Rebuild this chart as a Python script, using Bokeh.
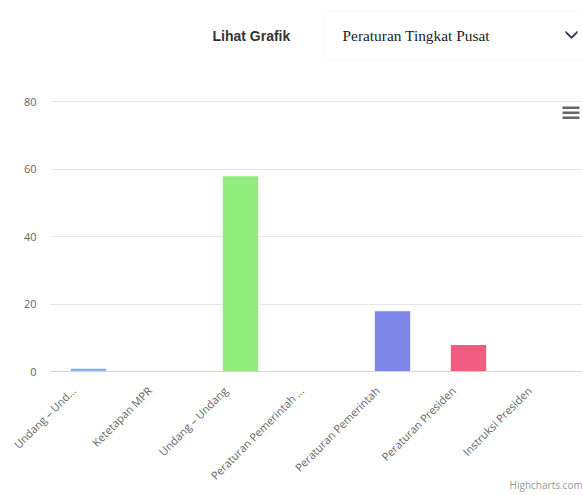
import math
from bokeh.plotting import figure
from bokeh.models import (Range1d, FixedTicker, Label, BoxAnnotation,
                          PolyAnnotation, ColumnDataSource)
from bokeh.embed import file_html
from bokeh.resources import INLINE

categories = ["Undang – Und...", "Ketetapan MPR", "Undang – Undang",
              "Peraturan Pemerintah ...", "Peraturan Pemerintah",
              "Peraturan Presiden", "Instruksi Presiden"]
values = [1, 0, 58, 0, 18, 8, 0]
colors = ["#7cb5ec", "#434348", "#90ed7d", "#f7a35c", "#8085e9", "#f15c80", "#e4d354"]
y_ticks = [0, 20, 40, 60, 80]
header_label = "Lihat Grafik"
dropdown_text = "Peraturan Tingkat Pusat"
credit_text = "Highcharts.com"

idx = list(range(len(categories)))
src = ColumnDataSource(dict(x=idx, val=values, color=colors))

# geometry (canvas pixels)
W, H = 582, 495
FRAME_LEFT, AXIS_Y = 50, 371
PX_PER_UNIT = 270 / 80.0
y_top = AXIS_Y / PX_PER_UNIT  # frame reaches the canvas top so header fits inside

p = figure(x_range=Range1d(-0.5, len(categories) - 0.5), y_range=Range1d(0, y_top),
           width=W, height=H, output_backend="svg", toolbar_location=None,
           min_border_left=FRAME_LEFT, min_border_right=0, min_border_top=0,
           min_border_bottom=H - AXIS_Y)
p.outline_line_color = None
p.background_fill_color = "white"
p.border_fill_color = "white"

p.vbar(x="x", top="val", width=0.48, fill_color="color", line_color="white",
       line_width=1, source=src)

p.yaxis.ticker = FixedTicker(ticks=y_ticks)
p.yaxis.axis_line_color = None
p.yaxis.major_tick_line_color = None
p.yaxis.minor_tick_line_color = None
p.yaxis.major_tick_out = 0
p.yaxis.major_tick_in = 0
p.yaxis.major_label_standoff = 14
p.yaxis.major_label_text_font = "Open Sans"
p.yaxis.major_label_text_font_size = "11px"
p.yaxis.major_label_text_color = "#666666"

# label anchors sit left of the category centre, like Highcharts
label_shift = 15 / 76.0
tick_pos = [i - label_shift for i in idx]
p.xaxis.ticker = FixedTicker(ticks=tick_pos)
p.xaxis.major_label_overrides = {t: c for t, c in zip(tick_pos, categories)}
p.xaxis.axis_line_color = "#ccd6eb"
p.xaxis.major_tick_line_color = None
p.xaxis.minor_tick_line_color = None
p.xaxis.major_tick_out = 0
p.xaxis.major_tick_in = 0
p.xaxis.major_label_standoff = 17
p.xaxis.major_label_orientation = math.pi / 4
p.xaxis.major_label_text_font = "Open Sans"
p.xaxis.major_label_text_font_size = "11px"
p.xaxis.major_label_text_color = "#666666"

# credit: axis label centred on the frame's right end; trailing no-break
# spaces (same width as the text) put the visible words left of that end
pad = "\u00a0" * 28
p.xaxis.axis_label = credit_text + pad
p.xaxis.axis_label_text_font = "Open Sans"
p.xaxis.axis_label_text_font_style = "normal"
p.xaxis.axis_label_text_font_size = "10px"
p.xaxis.axis_label_text_color = "#999999"
p.xaxis.axis_label_standoff = -13
p.xaxis.axis_label_align = "end"

p.xgrid.grid_line_color = None
p.ygrid.grid_line_color = "#e6e6e6"

# screen units are relative to the frame bottom-left (canvas x=50, y=371)
def sx(x):
    return x - FRAME_LEFT

def sy(y):
    return AXIS_Y - y

def scr(**kw):
    d = {}
    for k in kw:
        d[k + "_units"] = "screen"
    d.update(kw)
    return d

# Header
p.add_layout(Label(x=sx(212), y=sy(35), x_units="screen", y_units="screen",
                   text=header_label, text_font="Liberation Sans",
                   text_font_style="bold", text_font_size="14px",
                   text_color="#333333", text_baseline="middle"))
p.add_layout(BoxAnnotation(**scr(left=sx(323.5), right=sx(600), top=sy(10.5), bottom=sy(59.5)),
                           fill_color="white", fill_alpha=1,
                           line_color="#e2e2e2", line_width=1,
                           border_radius=8))
p.add_layout(Label(x=sx(342), y=sy(35), x_units="screen", y_units="screen",
                   text=dropdown_text, text_font="Liberation Serif",
                   text_font_size="15.4px", text_color="#222222",
                   text_baseline="middle"))
p.add_layout(PolyAnnotation(xs=[sx(565), sx(571), sx(577), sx(577), sx(571), sx(565)],
                            ys=[sy(30), sy(36), sy(30), sy(32.5), sy(38.5), sy(32.5)],
                            xs_units="screen", ys_units="screen",
                            fill_color="#2e2e5e", fill_alpha=1, line_color=None))

# Hamburger menu
for top in (106, 111, 116):
    p.add_layout(BoxAnnotation(**scr(left=sx(562), right=sx(579), top=sy(top), bottom=sy(top + 2.6)),
                               fill_color="#666666", fill_alpha=1, line_color=None))

open("out.html", "w").write(file_html(p, INLINE))
